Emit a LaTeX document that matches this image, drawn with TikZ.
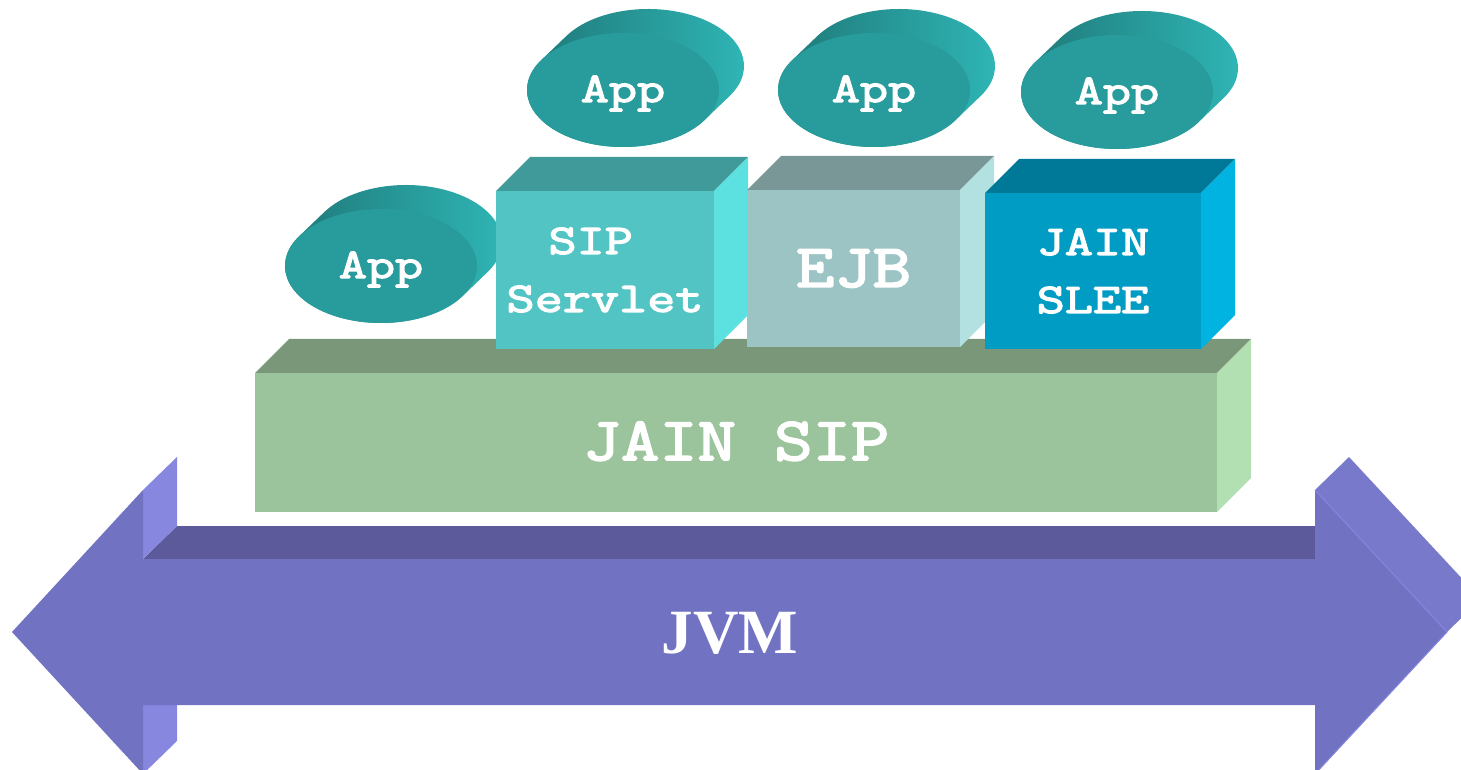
\documentclass[tikz,border=0pt]{standalone}
\usepackage{fontspec}
\setmainfont{Liberation Serif}
\newfontfamily\slabmid{Latin Modern Mono}[FakeBold=3.2, FakeStretch=1.3]
\newfontfamily\slabbig{Latin Modern Mono}[FakeBold=3.2, FakeStretch=1.22]
\definecolor{jvmfront}{HTML}{7173C2}
\definecolor{jvmband}{HTML}{5C5A9A}
\definecolor{jvmstrip}{HTML}{8787E0}
\definecolor{jvmhead}{HTML}{7979CC}
\definecolor{jvmedge}{HTML}{8585E2}
\definecolor{sipfront}{HTML}{9CC49C}
\definecolor{siptop}{HTML}{7A977A}
\definecolor{sipside}{HTML}{B3E0B3}
\definecolor{srvfront}{HTML}{52C4C4}
\definecolor{srvtop}{HTML}{409A9A}
\definecolor{srvside}{HTML}{5CE0E0}
\definecolor{ejbfront}{HTML}{9DC4C4}
\definecolor{ejbtop}{HTML}{7A9797}
\definecolor{ejbside}{HTML}{B3E0E0}
\definecolor{sleefront}{HTML}{009CC4}
\definecolor{sleetop}{HTML}{007999}
\definecolor{sleeside}{HTML}{00B3E0}
\definecolor{appfront}{HTML}{289C9C}
\definecolor{appdark}{HTML}{1E7474}
\definecolor{applight}{HTML}{30B8B8}
\begin{document}
\begin{tikzpicture}[x=1pt,y=1pt,
  frontface/.style={rectangle, inner sep=0pt, outer sep=0pt, text=white, align=center},
  midtext/.style={font=\slabmid\fontsize{42}{58}\selectfont},
  bigtext/.style={font=\slabbig\fontsize{61}{75}\selectfont},
  apptext/.style={text=white, inner sep=0pt, font=\slabmid\fontsize{42}{58}\selectfont},
  app/.pic={
    \shade[left color=appdark, right color=applight]
      (25,24) ++(-31.73:96 and 57)
      arc[start angle=-31.73, end angle=148.27, x radius=96pt, y radius=57pt]
      -- (148.27:96 and 57)
      arc[start angle=148.27, end angle=328.27, x radius=96pt, y radius=57pt]
      -- cycle;
    \fill[appfront] (0,0) ellipse[x radius=96pt, y radius=57pt];
    \node[apptext, anchor=base] (-t) at (0,-12) {App};
  }]
\useasboundingbox (0,0) rectangle (1461,769);
\clip (0,0) rectangle (1461,769);

% ---------- JVM double arrow ----------
\fill[jvmband] (143,210) -- (177,243) -- (1315,243) -- (1315,210) -- cycle;
\fill[jvmstrip] (143,279) -- (177,312) -- (177,243) -- (143,210) -- cycle;
\fill[jvmstrip] (143,64) -- (177,64) -- (177,28) -- (143,-5) -- cycle;
\fill[jvmhead] (1315,279) -- (1349,312) -- (1481,170) -- (1447,137) -- cycle;
\fill[jvmfront] (12,137) -- (143,279) -- (143,210) -- (1315,210) -- (1315,279)
  -- (1447,137) -- (1315,-5) -- (1315,64) -- (143,64) -- (143,-5) -- cycle;
\draw[jvmedge, line width=1pt] (1315,279) -- (1447,137) -- (1315,-5);
\node[text=white, font=\bfseries\fontsize{63}{75}\selectfont, inner sep=0pt, anchor=base] (jvm) at (730,116) {JVM};

% ---------- JAIN SIP ----------
\node[frontface, fill=sipfront, minimum width=962pt, minimum height=139pt] (jsip) at (736,326.5) {};
\node[text=white, bigtext, inner sep=0pt, anchor=base] (jsipt) at (736,309) {JAIN SIP};
\fill[siptop] (jsip.north west) -- ++(34,34) -- ++(962,0) -- (jsip.north east) -- cycle;
\fill[sipside] (jsip.north east) -- ++(34,34) -- ++(0,-139) -- (jsip.south east) -- cycle;

% ---------- left App (behind SIP Servlet) ----------
\pic (a1) at (381,503) {app};

% ---------- SIP Servlet ----------
\node[frontface, midtext, fill=srvfront, minimum width=218pt, minimum height=158pt] (srv) at (605,499) {SIP\hspace*{0.68em}\\Servlet};
\fill[srvtop] (srv.north west) -- ++(34,34) -- ++(218,0) -- (srv.north east) -- cycle;
\fill[srvside] (srv.north east) -- ++(34,34) -- ++(0,-158) -- (srv.south east) -- cycle;

% ---------- EJB ----------
\node[frontface, bigtext, fill=ejbfront, minimum width=213pt, minimum height=157pt] (ejb) at (853.5,500.5) {EJB};
\fill[ejbtop] (ejb.north west) -- ++(34,34) -- ++(213,0) -- (ejb.north east) -- cycle;
\fill[ejbside] (ejb.north east) -- ++(34,34) -- ++(0,-157) -- (ejb.south east) -- cycle;

% ---------- JAIN SLEE ----------
\node[frontface, midtext, fill=sleefront, minimum width=216pt, minimum height=156pt] (slee) at (1093,498) {JAIN\\SLEE};
\fill[sleetop] (slee.north west) -- ++(34,34) -- ++(216,0) -- (slee.north east) -- cycle;
\fill[sleeside] (slee.north east) -- ++(34,34) -- ++(0,-156) -- (slee.south east) -- cycle;

% ---------- upper Apps ----------
\pic (a2) at (623,679) {app};
\pic (a3) at (874,679) {app};
\pic (a4) at (1117,677) {app};
\end{tikzpicture}
\end{document}
